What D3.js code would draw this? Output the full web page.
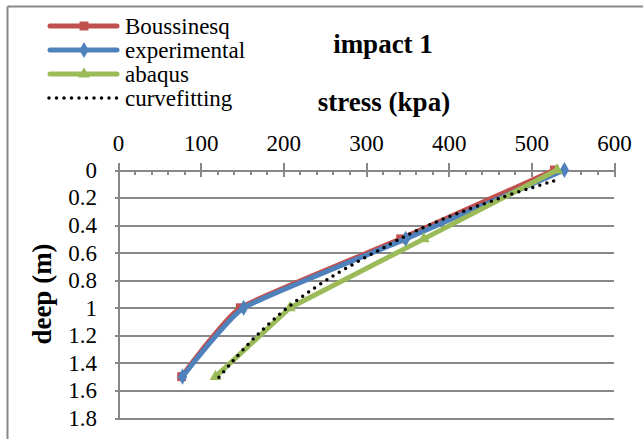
<!DOCTYPE html>
<html>
<head>
<meta charset="utf-8">
<script src="https://cdn.jsdelivr.net/npm/d3@7/dist/d3.min.js"></script>
<style>
body { margin: 0; background: #fff; }
svg text { font-family: "Liberation Serif", "Times New Roman", serif !important; fill: #000; }
.axis path.domain, .axis line { stroke: #888888; stroke-width: 2px; shape-rendering: crispEdges; }
.axis text { font-size: 23px; }
</style>
</head>
<body>
<svg id="chart" width="643" height="439"></svg>
<script>
// data
var depth = [0, 0.5, 1.0, 1.5];
var boussinesq = [528, 342, 148, 77];
var experimental = [540, 348, 152, 78];
var abaqus = [531, 370, 208, 118];
var fitDepth = [0.08, 0.2, 0.4, 0.6, 0.8, 1.0, 1.2, 1.4, 1.52];
var fitStress = [527, 464, 376, 310, 252, 205, 168, 137, 120];

var seriesNames = ["Boussinesq", "experimental", "abaqus", "curvefitting"];
var xTicks = [0, 100, 200, 300, 400, 500, 600];
var yTicks = [0, 0.2, 0.4, 0.6, 0.8, 1, 1.2, 1.4, 1.6, 1.8];
var yTickLabels = ["0", "0.2", "0.4", "0.6", "0.8", "1", "1.2", "1.4", "1.6", "1.8"];

var colors = {Boussinesq: "#C0504D", experimental: "#4F81BD", abaqus: "#9BBB59", curvefitting: "#000"};

var svg = d3.select("#chart");

// chart frame (only the top and left edges show)
svg.append("line").attr("x1", 7.5).attr("x2", 643).attr("y1", 6.5).attr("y2", 6.5)
	.style("stroke", "#888").style("stroke-width", 2);
svg.append("line").attr("x1", 7.5).attr("x2", 7.5).attr("y1", 6.5).attr("y2", 439)
	.style("stroke", "#888").style("stroke-width", 2);

var x = d3.scaleLinear().domain([0, 600]).range([118, 614]);
var y = d3.scaleLinear().domain([0, 1.8]).range([170, 418]);

// gridlines + y axis
var yAxis = svg.append("g").attr("class", "axis")
	.attr("transform", "translate(118,0)")
	.call(d3.axisLeft(y).tickValues(yTicks).tickSize(-(x(600) - x(0))).tickSizeOuter(0)
		.tickPadding(21).tickFormat(function (d, i) { return yTickLabels[i]; }));
yAxis.selectAll(".tick line").attr("x1", -3);

// minor ticks on x
svg.append("g").attr("class", "axis")
	.attr("transform", "translate(0,170)")
	.call(d3.axisTop(x).tickValues(d3.range(0, 601, 20)).tickSize(-5).tickSizeOuter(0).tickFormat(""));

// major x axis on top
var xAxis = svg.append("g").attr("class", "axis")
	.attr("transform", "translate(0,170)")
	.call(d3.axisTop(x).tickValues(xTicks).tickSize(7).tickSizeOuter(0));
xAxis.selectAll(".tick line").attr("y1", 7);
xAxis.selectAll(".tick text").attr("y", -19).attr("dy", 0);

svg.selectAll(".axis").attr("font-family", null);

// titles
svg.append("text").attr("x", 383).attr("y", 53).attr("text-anchor", "middle")
	.style("font-size", "27px").style("font-weight", "bold").text("impact 1");
svg.append("text").attr("x", 384).attr("y", 111).attr("text-anchor", "middle")
	.style("font-size", "27px").style("font-weight", "bold").text("stress (kpa)");
svg.append("text").attr("transform", "translate(51,294) rotate(-90)").attr("text-anchor", "middle")
	.style("font-size", "27px").style("font-weight", "bold").text("deep (m)");

var smooth = d3.line().x(function (d) { return x(d[0]); }).y(function (d) { return y(d[1]); })
	.curve(d3.curveCardinal.tension(0.6));
var fitLine = d3.line().x(function (d) { return x(d[0]); }).y(function (d) { return y(d[1]); })
	.curve(d3.curveCatmullRom.alpha(0.5));
var straight = d3.line().x(function (d) { return x(d[0]); }).y(function (d) { return y(d[1]); });

function pairs(xs, ys) { return xs.map(function (v, i) { return [v, ys[i]]; }); }

var square = d3.symbol().type(d3.symbolSquare).size(80);
var diamond = d3.symbol().type(d3.symbolDiamond).size(75);
var triangle = d3.symbol().type(d3.symbolTriangle).size(60);

function drawSeries(data, color, line, symbol) {
	svg.append("path").datum(data).attr("d", line)
		.style("fill", "none").style("stroke", color).style("stroke-width", 5)
		.style("stroke-linejoin", "round").style("stroke-linecap", "round");
	svg.selectAll(null).data(data).enter().append("path")
		.attr("d", symbol)
		.attr("transform", function (d) { return "translate(" + x(d[0]) + "," + y(d[1]) + ")"; })
		.style("fill", color);
}

drawSeries(pairs(boussinesq, depth), colors.Boussinesq, smooth, square);
drawSeries(pairs(experimental, depth), colors.experimental, smooth, diamond);
drawSeries(pairs(abaqus, depth), colors.abaqus, straight, triangle);

svg.append("path").datum(pairs(fitStress, fitDepth)).attr("d", fitLine)
	.style("fill", "none").style("stroke", "#000").style("stroke-width", 3.5)
	.style("stroke-linecap", "round").style("stroke-dasharray", "0,7.3");

// legend
var symbols = [square, diamond, triangle, null];
var legend = svg.selectAll("g.legend").data(seriesNames).enter().append("g")
	.attr("class", "legend")
	.attr("transform", function (d, i) { return "translate(0," + (26 + i * 24) + ")"; });
legend.each(function (d, i) {
	var g = d3.select(this);
	if (i < 3) {
		g.append("line").attr("x1", 50).attr("x2", 117).attr("y1", 0).attr("y2", 0)
			.style("stroke", colors[d]).style("stroke-width", 5).style("stroke-linecap", "round");
		g.append("path").attr("d", symbols[i]).attr("transform", "translate(84,0)").style("fill", colors[d]);
	} else {
		g.append("line").attr("x1", 49).attr("x2", 117).attr("y1", 0).attr("y2", 0)
			.style("stroke", "#000").style("stroke-width", 3.5)
			.style("stroke-linecap", "round").style("stroke-dasharray", "0,7.5");
	}
	g.append("text").attr("x", 125).attr("y", 8).style("font-size", "23px").text(d);
});
</script>
</body>
</html>
